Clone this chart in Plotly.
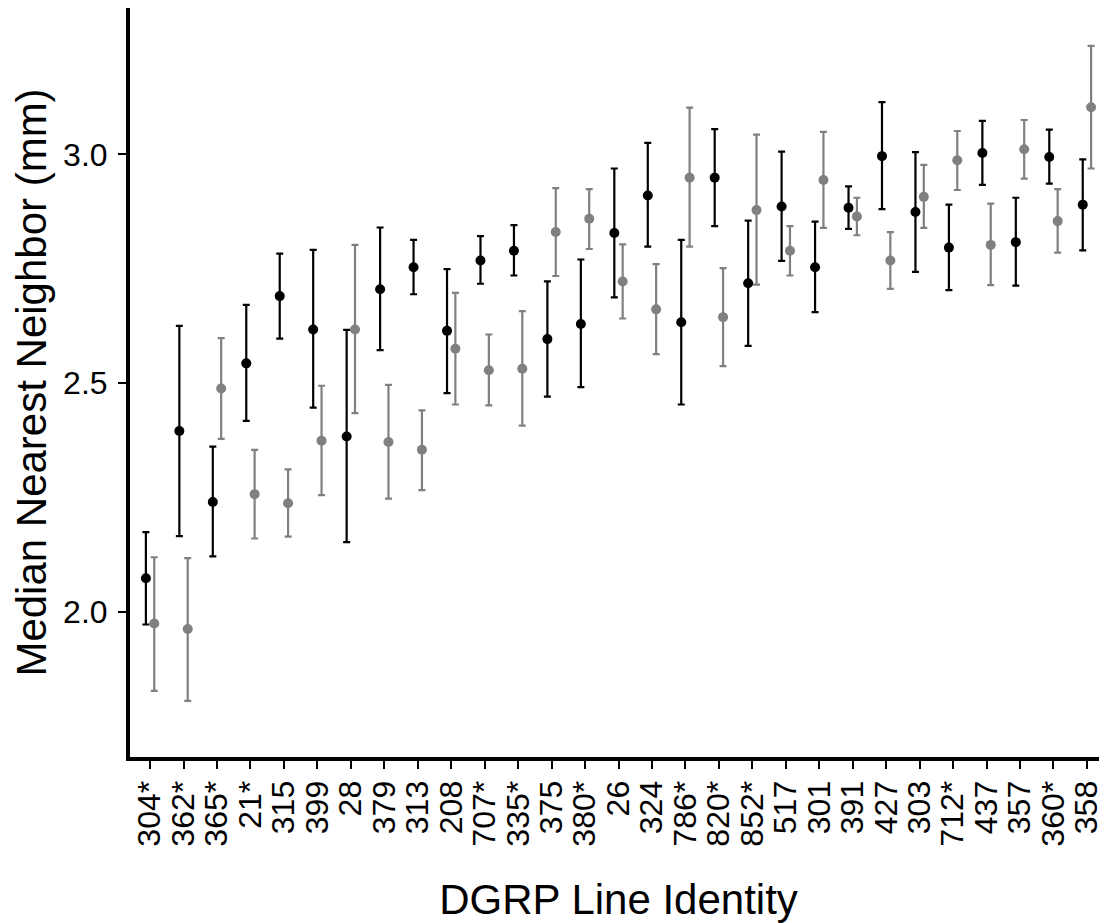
import plotly.graph_objects as go

categories = ["304*", "362*", "365*", "21*", "315", "399", "28", "379", "313", "208",
              "707*", "335*", "375", "380*", "26", "324", "786*", "820*", "852*", "517",
              "301", "391", "427", "303", "712*", "437", "357", "360*", "358"]

black_mean = [2.073, 2.395, 2.240, 2.543, 2.690, 2.617, 2.383, 2.705, 2.753, 2.614,
              2.768, 2.789, 2.596, 2.629, 2.828, 2.910, 2.633, 2.949, 2.718, 2.886,
              2.753, 2.883, 2.996, 2.874, 2.796, 3.003, 2.808, 2.994, 2.890]
black_lower = [1.972, 2.165, 2.121, 2.417, 2.597, 2.446, 2.152, 2.572, 2.694, 2.478,
               2.717, 2.735, 2.470, 2.491, 2.687, 2.798, 2.453, 2.843, 2.581, 2.767,
               2.655, 2.837, 2.880, 2.743, 2.703, 2.933, 2.713, 2.936, 2.790]
black_upper = [2.174, 2.625, 2.361, 2.671, 2.783, 2.791, 2.616, 2.840, 2.813, 2.749,
               2.821, 2.845, 2.722, 2.770, 2.969, 3.025, 2.813, 3.055, 2.855, 3.006,
               2.853, 2.930, 3.114, 3.005, 2.890, 3.073, 2.905, 3.054, 2.989]

gray_mean = [1.974, 1.962, 2.488, 2.257, 2.237, 2.374, 2.617, 2.371, 2.354, 2.575,
             2.528, 2.531, 2.830, 2.859, 2.722, 2.661, 2.949, 2.644, 2.878, 2.789,
             2.944, 2.864, 2.768, 2.907, 2.987, 2.802, 3.011, 2.854, 3.103]
gray_lower = [1.827, 1.805, 2.378, 2.160, 2.164, 2.255, 2.434, 2.247, 2.266, 2.453,
              2.451, 2.407, 2.734, 2.793, 2.641, 2.563, 2.798, 2.537, 2.715, 2.735,
              2.839, 2.823, 2.706, 2.839, 2.922, 2.714, 2.947, 2.785, 2.969]
gray_upper = [2.119, 2.117, 2.598, 2.354, 2.311, 2.494, 2.802, 2.496, 2.440, 2.697,
              2.606, 2.657, 2.926, 2.924, 2.803, 2.760, 3.102, 2.751, 3.043, 2.843,
              3.049, 2.905, 2.830, 2.977, 3.051, 2.892, 3.075, 2.924, 3.237]

y_ticks = [2.0, 2.5, 3.0]

FONT = "Liberation Sans, Arial, Helvetica, sans-serif"


def make_trace(name, mean, lower, upper, color):
    plus = [u - m for u, m in zip(upper, mean)]
    minus = [m - l for m, l in zip(mean, lower)]
    return go.Scatter(
        x=categories, y=mean, name=name, mode="markers",
        offsetgroup=name,
        marker=dict(color=color, size=10, line=dict(width=0)),
        error_y=dict(type="data", symmetric=False, array=plus, arrayminus=minus,
                     color=color, thickness=2.2, width=3.5),
        showlegend=False, cliponaxis=False,
    )


fig = go.Figure()
fig.add_trace(make_trace("black", black_mean, black_lower, black_upper, "#000000"))
fig.add_trace(make_trace("gray", gray_mean, gray_lower, gray_upper, "#808080"))

# the page body has an 8px default margin, so the figure is sized to fit the window
fig.update_layout(
    width=1099, height=915,
    paper_bgcolor="white", plot_bgcolor="white",
    margin=dict(l=122, r=0, t=0, b=166, pad=0),
    scattermode="group", scattergap=0.5,
    font=dict(family=FONT, color="black"),
)

fig.update_xaxes(
    type="category", range=[-0.6, 28.6],
    tickmode="array", tickvals=categories, ticktext=categories,
    automargin=False,
    showline=True, linecolor="black", linewidth=4,
    ticks="outside", ticklen=8, tickwidth=2, tickcolor="black",
    tickangle=-90, tickfont=dict(size=32, color="black", family=FONT),
    ticklabelstandoff=-1,
    showgrid=False, zeroline=False,
    title=dict(text="DGRP Line Identity", font=dict(size=42, family=FONT, color="black"),
               standoff=40),
)
fig.update_yaxes(
    range=[1.6823, 3.3199], automargin=False,
    tickvals=y_ticks, tickformat=".1f",
    showline=True, linecolor="black", linewidth=4,
    ticks="outside", ticklen=8, tickwidth=2, tickcolor="black",
    tickfont=dict(size=32, color="black", family=FONT),
    ticklabelstandoff=4,
    showgrid=False, zeroline=False,
    title=dict(text="Median Nearest Neighbor (mm)", font=dict(size=42, family=FONT, color="black"),
               standoff=23),
)

fig.write_html("out.html")
